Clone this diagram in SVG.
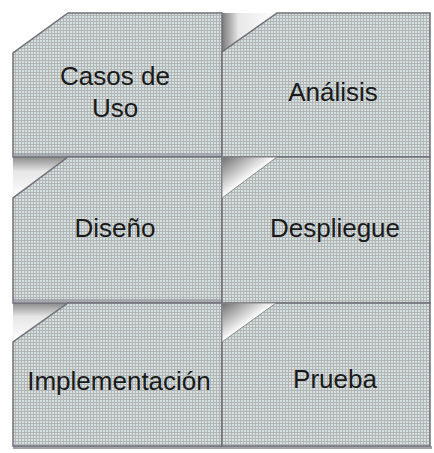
<svg xmlns="http://www.w3.org/2000/svg" width="434" height="453" viewBox="0 0 434 453">
<style>
.cell{fill:url(#dots);stroke:#70707a;stroke-width:1.5}
.lbl{font-family:"Liberation Sans",Arial,sans-serif;font-size:26px;fill:#1a1a1a;text-anchor:middle}
.shadow{fill:#8a8a92;opacity:0.8}
.fold{fill:url(#foldg);stroke:#8a8a8a;stroke-width:1}
.gap{fill:url(#gapg)}
.edge{fill:#9a9aa4;opacity:0.7}
</style>
<defs>
<pattern id="dots" width="3" height="3" patternUnits="userSpaceOnUse">
<rect width="3" height="3" fill="#dcdcdc"/>
<rect x="0" y="0" width="3" height="1" fill="#b4b4b4"/>
<rect x="0" y="0" width="1" height="3" fill="#b4b4b4"/>
<rect x="1.5" y="1.5" width="1.2" height="1.2" fill="#c2ecec"/>
</pattern>
<linearGradient id="foldg" x1="0" y1="0" x2="1" y2="1">
<stop offset="0" stop-color="#6e6e6e"/>
<stop offset="0.5" stop-color="#ffffff"/>
<stop offset="1" stop-color="#b0b0b0"/>
</linearGradient>
<linearGradient id="gapg" x1="0" y1="0" x2="0" y2="1">
<stop offset="0" stop-color="#8c8c8c"/>
<stop offset="0.35" stop-color="#e6e6e6"/>
<stop offset="1" stop-color="#ffffff"/>
</linearGradient>
<linearGradient id="topgap" x1="0" y1="0" x2="1" y2="0">
<stop offset="0" stop-color="#7a7a7a"/>
<stop offset="0.3" stop-color="#e8e8e8"/>
<stop offset="1" stop-color="#ffffff"/>
</linearGradient>
</defs>
<rect width="434" height="453" fill="#ffffff"/>
<g id="shadows">
<polygon class="gap" points="13,157 68,157 13,198"/>
<polygon class="gap" points="13,303 68,303 13,342"/>
<polygon fill="url(#topgap)" points="222,13 277,13 222,52"/>
<rect class="shadow" x="13" y="446" width="419" height="3"/>
</g>
<g id="casos-de-uso">
<polygon class="cell" points="68,13 222,13 222,157 13,157 13,53"/>
<rect class="edge" x="14" y="153" width="207" height="3"/>
<text class="lbl" x="115" y="85">Casos de</text>
<text class="lbl" x="115" y="117">Uso</text>
</g>
<g id="analisis">
<polygon class="cell" points="277,13 430,13 430,157 222,157 222,52"/>
<text class="lbl" x="333" y="101">Análisis</text>
</g>
<g id="diseno">
<polygon class="cell" points="68,157 222,157 222,303 13,303 13,198"/>
<rect class="edge" x="14" y="299" width="207" height="3"/>
<text class="lbl" x="115" y="237">Diseño</text>
</g>
<g id="despliegue">
<rect class="cell" x="222" y="157" width="208" height="146"/>
<polygon class="fold" points="222,157 277,157 222,198"/>
<text class="lbl" x="335" y="237">Despliegue</text>
</g>
<g id="implementacion">
<polygon class="cell" points="68,303 222,303 222,446 13,446 13,342"/>
<text class="lbl" x="119" y="390">Implementación</text>
</g>
<g id="prueba">
<rect class="cell" x="222" y="303" width="208" height="143"/>
<polygon class="fold" points="222,303 276,303 222,342"/>
<text class="lbl" x="335" y="388">Prueba</text>
</g>
<g id="connectors"/>
</svg>
